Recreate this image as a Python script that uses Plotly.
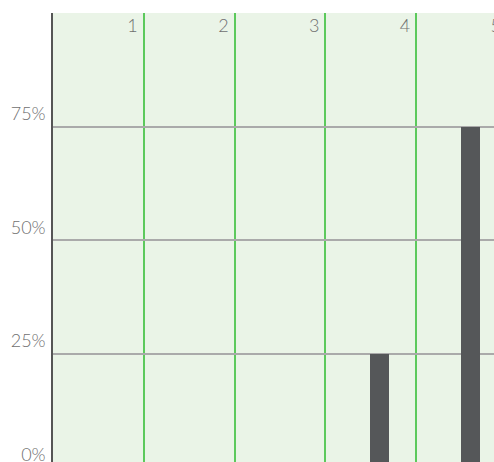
import plotly.graph_objects as go

categories = [1, 2, 3, 4, 5]
values = [0.0, 0.0, 0.0, 0.25, 0.75]
y_ticks = [0, 0.25, 0.5, 0.75]
y_tick_labels = ["0%", "25%", "50%", "75%"]

fig = go.Figure()
fig.add_trace(go.Bar(
    x=categories, y=values,
    offset=-0.51, width=0.21,
    marker=dict(color="#555759", line=dict(width=0)),
    showlegend=False,
))

font_family = "Lato, 'Open Sans', sans-serif"
fig.update_layout(
    width=560, height=467,
    margin=dict(l=53, r=0, t=13, b=0, pad=0),
    paper_bgcolor="white",
    plot_bgcolor="#eaf4e7",
    font=dict(family=font_family, color="#707070", size=18),
    bargap=0,
)
fig.update_xaxes(
    side="top", range=[0, 5.583],
    tickmode="array", tickvals=categories, ticktext=[str(c) for c in categories],
    ticklabelposition="inside left", ticklabelshift=-6,
    showgrid=True, gridcolor="#5cc95c", gridwidth=1.5,
    zeroline=False, showline=False, ticks="",
    tickfont=dict(size=18, color="#707070", weight=300),
)
fig.update_yaxes(
    range=[0, 1.0],
    tickmode="array", tickvals=y_ticks, ticktext=y_tick_labels,
    ticklabelposition="outside top",
    showgrid=True, gridcolor="#aaaaaa", gridwidth=1.5,
    zeroline=False, showline=True, linecolor="#555555", linewidth=1.5,
    ticks="", ticklabelstandoff=2,
    tickfont=dict(size=18, color="#707070", weight=300),
)

page_style = (
    "document.documentElement.style.overflow='hidden';"
    "document.body.style.margin='0';"
    "document.body.style.overflow='hidden';"
)
fig.write_html("out.html", post_script=page_style,
               config={"displayModeBar": False})
